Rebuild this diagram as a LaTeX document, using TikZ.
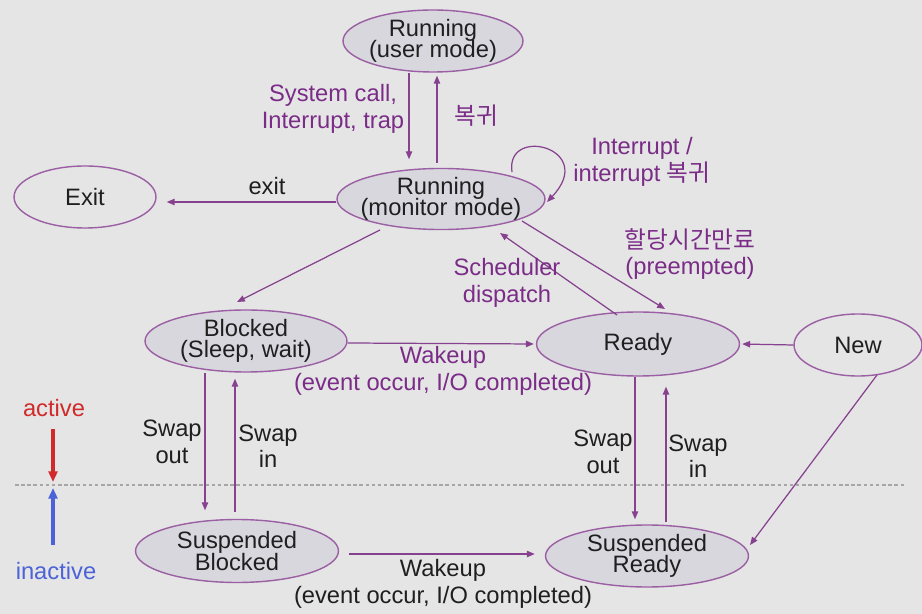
\documentclass[tikz,border=0pt]{standalone}
\usepackage{fontspec}
\setmainfont{Liberation Sans}
\newfontfamily\kor{Noto Sans CJK KR}
\usetikzlibrary{shapes.geometric,arrows.meta}

\definecolor{bgcol}{HTML}{E5E5E5}
\definecolor{statefill}{HTML}{D9D7DE}
\definecolor{rimcol}{HTML}{9B5FA3}
\definecolor{linecol}{HTML}{86418F}
\definecolor{lblpurple}{HTML}{7A2C87}
\definecolor{txtcol}{HTML}{1F1F1F}
\definecolor{actred}{HTML}{D02A2A}
\definecolor{inactblue}{HTML}{4B63D6}

\newcommand\statefont{\fontsize{13.5}{12}\selectfont\lineskiplimit=-\maxdimen}
\newcommand\lblfont{\fontsize{13.5}{15}\selectfont}

\tikzset{
	state/.style={shape=ellipse,draw=rimcol,line width=0.8pt,fill=statefill,inner xsep=-8pt,inner ysep=0pt,text=txtcol,font=\statefont,align=center},
	openstate/.style={state,fill=none},
	trans/.style={draw=linecol,line width=0.7pt,-{Triangle[length=4.5pt,width=3.6pt]}},
	lbl/.style={font=\lblfont,text=lblpurple,align=center,inner sep=1pt},
	blk/.style={lbl,text=txtcol},
	level/.style={line width=1.8pt,-{Triangle[length=6pt,width=5pt]}}
}

\begin{document}
\begin{tikzpicture}[x=0.02cm,y=-0.02cm]
	\fill[bgcol] (0,0) rectangle (922,614);
	\useasboundingbox (0,0) rectangle (922,614);

	% states
	\node[state,minimum width=3.6cm,minimum height=1.24cm] (user) at (433,41) {Running\\(user mode)};
	\node[state,minimum width=4.16cm,minimum height=1.16cm] (mon) at (441,199) {Running\\(monitor mode)};
	\node[openstate,minimum width=2.84cm,minimum height=1.24cm] (exit) at (85,197) {Exit};
	\node[state,minimum width=4.04cm,minimum height=1.24cm] (blk) at (246,341) {Blocked\\(Sleep, wait)};
	\node[state,minimum width=4.06cm,minimum height=1.28cm] (rdy) at (638,344) {Ready};
	\node[openstate,minimum width=2.56cm,minimum height=1.24cm] (new) at (858,345) {New};
	\node[state,minimum width=4.06cm,minimum height=1.26cm] (sb) at (237,551) {Suspended\\Blocked};
	\node[state,minimum width=4.06cm,minimum height=1.24cm] (sr) at (647,556) {Suspended\\Ready};

	% user <-> monitor
	\draw[trans,shorten >=0.17cm] ([shift={(-24,0)}]user.south) -- ([shift={(-32,0)}]mon.north);
	\draw[trans,shorten <=0.1cm,shorten >=0.06cm] ([shift={(-4,0)}]mon.north) -- ([shift={(4,0)}]user.south);
	\node[lbl] (syscall) at (333,109) {System call,\\Interrupt, trap};
	\node[lbl] (back) at (476,116) {\kor 복귀};

	% self loop
	\draw[trans] ([shift={(71,-27)}]mon.center) .. controls +(-7,-47) and +(51,-54) .. ([shift={(106,3)}]mon.center);
	\node[lbl] (intr) at (642,162) {Interrupt /\\interrupt {\kor 복귀}};

	% exit
	\draw[trans,shorten >=0.2cm] ([shift={(0,3)}]mon.west) -- ([shift={(0,5)}]exit.east);
	\node[blk] (exitlbl) at (267,186) {exit};

	% monitor <-> ready, blocked
	\draw[trans] ([shift={(-61,31)}]mon.center) -- ([shift={(-9,-39)}]blk.center);
	\draw[trans] ([shift={(81,22)}]mon.center) -- ([shift={(27,-35)}]rdy.center);
	\draw[trans] ([shift={(-21,-29)}]rdy.center) -- ([shift={(59,34)}]mon.center);
	\node[lbl] (preempt) at (690,254) {{\kor 할당시간만료}\\(preempted)};
	\node[lbl] (dispatch) at (507,283) {Scheduler\\dispatch};

	% wakeup, new
	\draw[trans,shorten >=0.04cm] ([shift={(0,2)}]blk.east) -- (rdy.west);
	\node[lbl] (wake) at (443,371) {Wakeup\\(event occur, I/O completed)};
	\draw[trans,shorten >=0.04cm] (new.west) -- (rdy.east);
	\draw[trans] ([shift={(19,30)}]new.center) -- ([shift={(103,-11)}]sr.center);

	% swapping
	\draw[trans,shorten >=0.17cm] ([shift={(-41,0)}]blk.south) -- ([shift={(-32,0)}]sb.north);
	\draw[trans,shorten <=0.14cm,shorten >=0.12cm] ([shift={(-2,0)}]sb.north) -- ([shift={(-11,0)}]blk.south);
	\node[blk] (sbout) at (172,442) {Swap\\out};
	\node[blk] (sbin) at (268,446) {Swap\\in};
	\draw[trans,shorten >=0.1cm] ([shift={(-3,0)}]rdy.south) -- ([shift={(-12,0)}]sr.north);
	\draw[trans,shorten <=0.04cm,shorten >=0.2cm] ([shift={(19,0)}]sr.north) -- ([shift={(28,0)}]rdy.south);
	\node[blk] (srout) at (603,452) {Swap\\out};
	\node[blk] (srin) at (698,456) {Swap\\in};

	% suspended wakeup
	\draw[trans,shorten <=0.2cm,shorten >=0.2cm] ([shift={(0,3)}]sb.east) -- ([shift={(0,-2)}]sr.west);
	\node[blk] (wake2) at (443,584) {Wakeup\\(event occur, I/O completed)};

	% active / inactive
	\draw[gray!70,line width=0.6pt,dash pattern=on 2pt off 1.5pt] (15,485) -- (905,485);
	\coordinate (split) at (53,485);
	\node[lbl,text=actred] (act) at (54,408) {active};
	\node[lbl,text=inactblue] (inact) at (56,571) {inactive};
	\draw[level,actred,shorten <=0.2cm,shorten >=0.06cm] (act.south -| split) -- (split);
	\draw[level,inactblue,shorten <=0.3cm,shorten >=0.06cm] (inact.north -| split) -- (split);

\end{tikzpicture}
\end{document}
